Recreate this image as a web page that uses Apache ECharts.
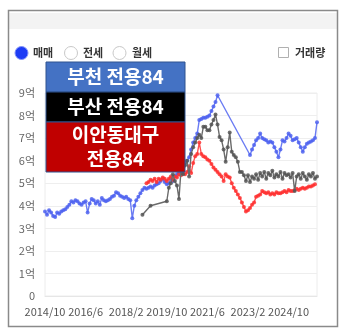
<!DOCTYPE html>
<html><head><meta charset="utf-8">
<script src="https://cdn.jsdelivr.net/npm/echarts@6/dist/echarts.min.js"></script>
<style>html,body{margin:0;padding:0;background:#fff}#c{width:344px;height:336px}</style>
</head><body><div id="c"></div>
<script>
// monthly categories 2014/10 .. 2025/12
const startYear = 2014, startMonth = 10, monthCount = 135;
const categories = [];
for (let i = 0; i < monthCount; i++) {
  const m = startMonth - 1 + i;
  categories.push((startYear + Math.floor(m / 12)) + '/' + (m % 12 + 1));
}
const yTicks = [0,1,2,3,4,5,6,7,8,9];
const seriesNames = ['부천 전용84', '이안동대구 전용84', '부산 전용84'];

// 부천 (blue), index 0 = 2014/10
const bucheon = [3.75,3.6,3.8,3.7,3.55,3.5,3.7,3.65,3.75,3.8,3.85,3.95,4.05,4.2,4.15,4.25,4.2,4.1,4.05,4.15,
 4.2,3.7,4.1,4.3,4.25,4.1,4.2,4.05,4.35,4.25,4.2,4.25,4.3,4.4,4.45,4.6,4.55,4.45,4.4,4.35,
 4.4,4.3,4.25,3.45,4.0,4.25,4.4,4.55,4.7,4.8,4.75,4.8,4.85,4.8,4.9,4.95,5.0,5.1,5.2,5.05,
 4.95,5.0,5.2,5.1,5.3,5.4,5.5,5.45,5.7,5.9,6.0,6.15,6.5,6.8,7.0,7.2,7.8,7.85,7.9,7.9,
 7.95,8.0,8.2,8.4,8.6,8.9,null,null,null,null,null,null,null,null,null,null,null,null,null,null,
 null,6.25,6.5,6.7,6.9,7.0,7.2,7.0,6.95,6.9,6.8,6.85,6.8,6.6,6.4,6.15,6.5,6.9,6.85,7.0,
 7.2,7.1,6.9,6.95,7.0,6.8,6.6,6.4,6.6,6.75,6.8,6.85,6.9,7.0,7.7];

// 부산 (black), starts 2018/10 (index 48)
const busanStart = 48;
const busan = [3.6,null,null,null,4.0,null,null,null,null,null,null,null,4.2,4.8,5.0,5.4,5.1,4.9,4.3,5.6,
 5.4,5.8,6.0,5.3,6.3,6.6,6.8,7.0,7.15,7.0,7.5,7.5,7.35,7.35,7.6,7.8,8.05,7.6,7.05,6.9,
 6.5,5.95,6.6,7.25,6.4,6.25,6.15,5.95,5.5,5.5,5.35,5.1,5.35,5.05,5.3,5.2,5.4,5.15,5.45,5.3,
 5.5,5.2,5.45,5.35,5.55,5.25,5.4,5.3,5.5,5.2,5.45,5.35,5.4,5.25,5.45,4.65,5.3,5.4,5.2,5.45,
 5.3,5.15,5.4,5.3,5.45,5.2,5.3];

// 이안동대구 (red), starts 2018/12 (index 50)
const daeguStart = 50;
const daegu = [5.0,5.05,5.15,5.1,5.2,5.05,5.2,5.15,5.25,5.2,5.1,5.2,5.3,5.15,5.3,5.25,5.4,5.35,5.45,5.4,
 5.5,5.75,5.45,5.9,6.2,6.3,6.8,6.3,6.2,6.15,6.05,6.0,5.85,5.7,5.6,5.5,5.4,5.3,5.1,5.4,
 5.3,5.25,5.0,4.8,4.65,4.5,4.35,4.15,3.95,3.75,3.8,3.9,4.05,4.15,4.4,4.45,4.5,4.65,4.6,4.55,
 4.6,4.5,4.55,4.5,4.6,4.55,4.55,4.6,4.65,4.6,4.7,4.65,4.65,4.7,4.75,4.7,4.75,4.8,4.75,4.8,
 4.85,4.85,4.9,4.95];

function pad(start, arr) { return new Array(start).fill(null).concat(arr); }

const chart = echarts.init(document.getElementById('c'), null, {renderer: 'canvas'});
const font = '"Noto Sans CJK KR", "Noto Sans", sans-serif';
function lineSeries(name, data, color, lineColor, z) {
  return {
    name: name, type: 'line', data: data, connectNulls: true, z: z,
    symbol: 'circle', symbolSize: 4, showSymbol: true, showAllSymbol: true,
    itemStyle: {color: color, opacity: 0.85},
    lineStyle: {color: lineColor, width: 1.4},
    animation: false
  };
}
chart.setOption({
  animation: false,
  textStyle: {fontFamily: font},
  grid: {left: 45, right: 27, top: 93, bottom: 40, show: true, borderColor: '#ececec', borderWidth: 1},
  xAxis: {
    type: 'category', data: categories, boundaryGap: false,
    axisLine: {show: true, lineStyle: {color: '#e6e6e6'}},
    axisTick: {show: false},
    axisLabel: {interval: 19, color: '#555', fontSize: 11, margin: 10, fontFamily: font},
    splitLine: {show: false}
  },
  yAxis: {
    type: 'value', min: yTicks[0], max: yTicks[yTicks.length-1], interval: 1,
    axisLine: {show: false}, axisTick: {show: false},
    axisLabel: {color: '#666', fontSize: 11, margin: 10, fontFamily: font,
      formatter: v => v === 0 ? '0' : v + '억'},
    splitLine: {lineStyle: {color: '#eeeeee'}}
  },
  series: [
    lineSeries(seriesNames[0], bucheon, '#4f63f0', '#6b7cf3', 2),
    lineSeries(seriesNames[1], pad(daeguStart, daegu), '#ff3030', '#ff5050', 3),
    lineSeries(seriesNames[2], pad(busanStart, busan), '#555555', '#6a6a6a', 4)
  ],
  graphic: [
    {type: 'rect', shape: {x: 9, y: 13, width: 328, height: 16}, style: {fill: '#f3f3f3'}, silent: true},
    {type: 'rect', shape: {x: 8.5, y: 10.5, width: 329, height: 316}, style: {fill: 'none', stroke: '#8a8a8a', lineWidth: 1.5}, silent: true},
    {type: 'circle', shape: {cx: 21.5, cy: 53, r: 6.5}, style: {fill: '#1d3cf5', stroke: '#7f90f8', lineWidth: 1}},
    {type: 'text', x: 33, y: 53, style: {text: '매매', fill: '#333', font: 'bold 11px ' + font, textVerticalAlign: 'middle'}},
    {type: 'circle', shape: {cx: 71, cy: 53, r: 6.5}, style: {fill: '#fff', stroke: '#c8c8c8', lineWidth: 1}},
    {type: 'text', x: 83, y: 53, style: {text: '전세', fill: '#333', font: 'bold 11px ' + font, textVerticalAlign: 'middle'}},
    {type: 'circle', shape: {cx: 119.5, cy: 53, r: 6.5}, style: {fill: '#fff', stroke: '#c8c8c8', lineWidth: 1}},
    {type: 'text', x: 132, y: 53, style: {text: '월세', fill: '#333', font: 'bold 11px ' + font, textVerticalAlign: 'middle'}},
    {type: 'rect', shape: {x: 278.5, y: 47.5, width: 10, height: 10}, style: {fill: '#fff', stroke: '#b0b0b0', lineWidth: 1}},
    {type: 'text', x: 295, y: 53, style: {text: '거래량', fill: '#333', font: 'bold 11px ' + font, textVerticalAlign: 'middle'}},
    {type: 'rect', z: 100, shape: {x: 46, y: 62, width: 139, height: 30}, style: {fill: '#4472c4', stroke: '#2f528f', lineWidth: 1}},
    {type: 'text', z: 101, x: 115.5, y: 77, style: {text: '부천 전용84', fill: '#fff', font: 'bold 19px ' + font, textAlign: 'center', textVerticalAlign: 'middle'}},
    {type: 'rect', z: 100, shape: {x: 46, y: 92, width: 139, height: 30}, style: {fill: '#000', stroke: '#2f528f', lineWidth: 1}},
    {type: 'text', z: 101, x: 115.5, y: 107, style: {text: '부산 전용84', fill: '#fff', font: 'bold 19px ' + font, textAlign: 'center', textVerticalAlign: 'middle'}},
    {type: 'rect', z: 100, shape: {x: 46, y: 122, width: 139, height: 50}, style: {fill: '#c00000', stroke: '#2f528f', lineWidth: 1}},
    {type: 'text', z: 101, x: 115.5, y: 135, style: {text: '이안동대구', fill: '#fff', font: 'bold 19px ' + font, textAlign: 'center', textVerticalAlign: 'middle'}},
    {type: 'text', z: 101, x: 115.5, y: 159, style: {text: '전용84', fill: '#fff', font: 'bold 19px ' + font, textAlign: 'center', textVerticalAlign: 'middle'}}
  ]
});
</script></body></html>
